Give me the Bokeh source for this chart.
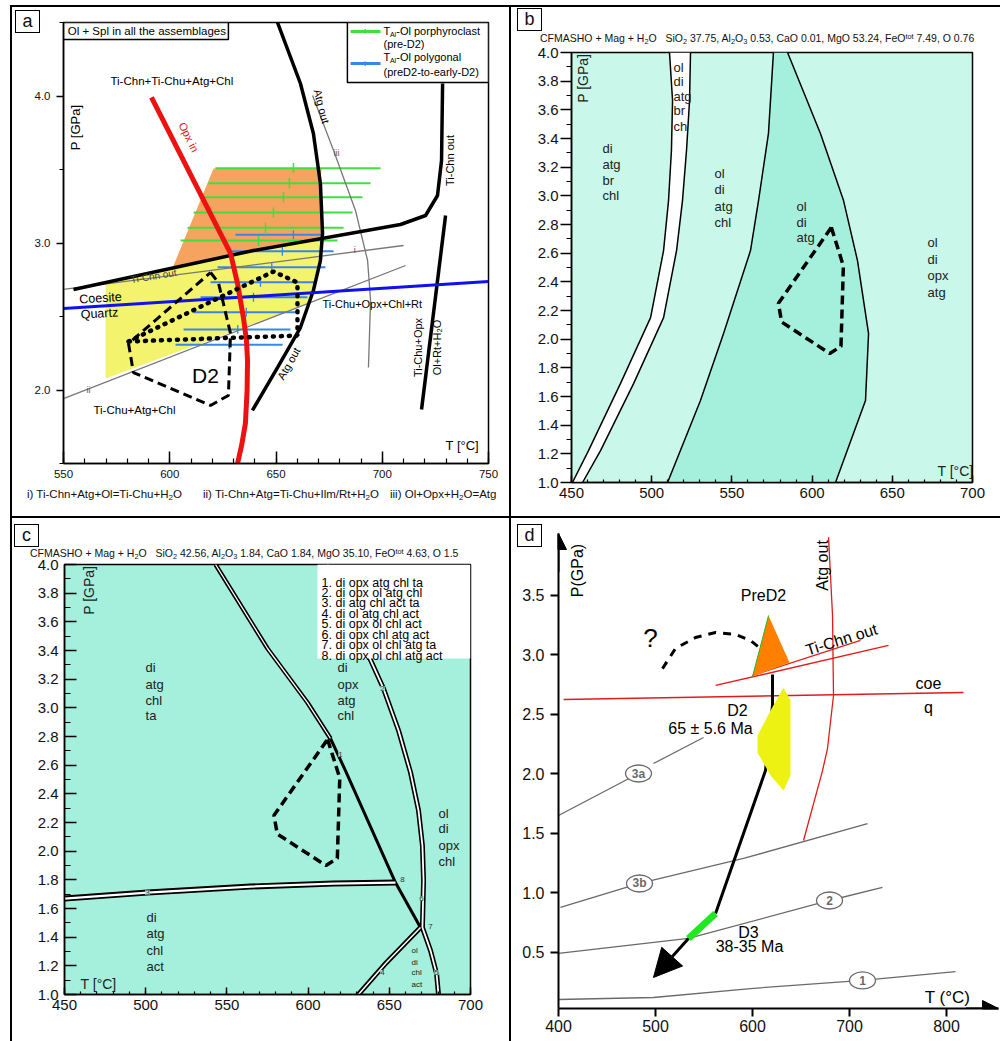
from bokeh.plotting import figure
from bokeh.models import (Range1d, Label, FixedTicker, PrintfTickFormatter, Div,
                          Arrow, NormalHead)
from bokeh.embed import file_html
from bokeh.resources import INLINE
from bokeh.core.properties import value

FONT = "Liberation Sans"

# ---------------- Panel a data ----------------
A_OPX_T = [591.4, 628.6, 631.9, 634.7, 636.1, 636.6, 636.4, 635.6, 633.8, 631.9]
A_OPX_P = [3.99, 2.93, 2.724, 2.49, 2.337, 2.20, 1.997, 1.772, 1.622, 1.50]
A_ATG_T = [650.7, 661.5, 667.6, 670.9, 671.9, 670.9, 667.6, 661.5, 650.7, 638.9]
A_ATG_P = [4.5, 4.085, 3.745, 3.405, 3.065, 2.88, 2.677, 2.425, 2.153, 1.861]
A_TICHN_T = [554.7, 639.4, 708.6, 720.4, 726.0, 727.9, 728.4]
A_TICHN_P = [2.684, 2.949, 3.126, 3.187, 3.323, 3.561, 4.085]
A_TICHU_T = [729.8, 718.5]
A_TICHU_P = [3.187, 1.867]
A_COE_T = [550, 750]
A_COE_P = [2.554, 2.738]
A_I_T = [550, 710]
A_I_P = [2.684, 2.983]
A_II_T = [550, 711]
A_II_P = [1.942, 2.847]
A_III_T = [667.2, 677.1, 687.4, 693.1, 694.5, 693.5]
A_III_P = [4.003, 3.629, 3.221, 2.881, 2.609, 2.153]
A_OR_T = [620.6, 671.4, 670.9, 671.9, 639.4, 601.3]
A_OR_P = [3.507, 3.507, 3.405, 3.04, 2.949, 2.83]
A_YE_T = [569.8, 569.8, 665.6, 667.6, 670.9, 671.9, 639.4]
A_YE_P = [2.731, 2.078, 2.592, 2.677, 2.88, 3.03, 2.949]
A_GR_P = [3.509, 3.407, 3.312, 3.207, 3.103, 3.017]
A_GR_T0 = [621.5, 618.2, 615.4, 611.2, 608.4, 605.1]
A_GR_T1 = [699.2, 694.5, 690.7, 686.0, 681.8, 678.9]
A_GR_TC = [658.2, 656.3, 653.5, 648.8, 645.1, 641.8]
A_BL_P = [3.056, 2.944, 2.835, 2.733, 2.631, 2.529, 2.412, 2.307]
A_BL_T0 = [630.9, 628.6, 622.5, 619.2, 614.5, 611.2, 606.5, 602.7]
A_BL_T1 = [671.9, 677.1, 673.3, 668.6, 664.8, 660.1, 656.8, 653.1]
A_BL_TC = [658.2, 653.0, 648.0, 642.7, 639.4, 636.0, 632.0, 628.0]
A_DOT_T = [580.6, 648.8, 660.1, 660.1, 628.6, 580.6]
A_DOT_P = [2.33, 2.806, 2.731, 2.37, 2.355, 2.33]
A_D2_T = [619.2, 622.9, 628.6, 627.6, 619.2, 582.9, 580.6, 619.2]
A_D2_P = [2.799, 2.731, 2.384, 1.963, 1.895, 2.119, 2.316, 2.799]
A_CAPTION = ["i) Ti-Chn+Atg+Ol=Ti-Chu+H<sub>2</sub>O",
             "ii) Ti-Chn+Atg=Ti-Chu+Ilm/Rt+H<sub>2</sub>O",
             "iii) Ol+Opx+H<sub>2</sub>O=Atg"]

# ---------------- Panel b data ----------------
B1_T = [511.1, 513.0, 512.3, 510.5, 507.4, 499.3, 480.5, 460.6, 450.6]
B1_P = [4.0, 3.665, 3.316, 2.967, 2.618, 2.150, 1.690, 1.222, 1.0]
B2_T = [524.2, 523.6, 521.7, 519.2, 515.5, 507.4, 488.7, 468.1, 456.9]
B2_P = [4.0, 3.665, 3.316, 2.967, 2.618, 2.150, 1.690, 1.222, 1.0]
B3_T = [575.9, 572.8, 566.6, 561.6, 544.8, 530.4, 509.9]
B3_P = [4.0, 3.435, 2.967, 2.618, 2.039, 1.572, 1.0]
B4_T = [584.7, 605.2, 619.6, 628.3, 635.2, 633.3, 614.6]
B4_P = [4.0, 3.435, 2.967, 2.548, 2.039, 1.572, 1.0]
BC_D2_T = [612.0, 619.5, 618.0, 611.0, 581.0, 579.0, 612.0]
BC_D2_P = [2.78, 2.51, 1.95, 1.90, 2.12, 2.25, 2.78]
B_TITLE = ("CFMASHO + Mag + H<sub>2</sub>O&nbsp;&nbsp; SiO<sub>2</sub> 37.75, Al<sub>2</sub>O<sub>3</sub> 0.53, "
           "CaO 0.01, MgO 53.24, FeO<sup>tot</sup> 7.49, O 0.76")

# ---------------- Panel c data ----------------
C1_T = [543.0, 575.0, 599.6, 613.8]
C1_P = [4.0, 3.414, 3.037, 2.786]
C1B_T = [613.8, 623.0, 653.8, 669.2]
C1B_P = [2.786, 2.562, 1.781, 1.467]
C2_T = [612.0, 637.2, 646.4, 655.7, 663.1, 668.0, 670.4, 671.1, 670.4, 675.4, 679.1, 680.3]
C2_P = [4.0, 3.365, 3.135, 2.842, 2.548, 2.283, 2.039, 1.795, 1.467, 1.306, 1.146, 1.0]
C3_T = [450.0, 501.1, 564.5, 615.6, 653.8]
C3_P = [1.669, 1.711, 1.753, 1.774, 1.781]
C4_T = [631.0, 648.0, 669.2]
C4_P = [1.0, 1.22, 1.467]
C_LEGEND = ["1. di opx atg chl ta", "2. di opx ol atg chl", "3. di atg chl act ta",
            "4. di ol atg chl act", "5. di opx ol chl act", "6. di opx chl atg act",
            "7. di opx ol chl atg ta", "8. di opx ol chl atg act"]
C_NUM = ["1", "2", "3", "4", "5", "6", "7", "8"]
C_NUM_T = [620.0, 645.8, 501.1, 645.8, 679.1, 669.8, 675.4, 658.1]
C_NUM_P = [2.674, 3.135, 1.711, 1.153, 1.153, 1.669, 1.474, 1.802]
C_TITLE = ("CFMASHO + Mag + H<sub>2</sub>O&nbsp;&nbsp; SiO<sub>2</sub> 42.56, Al<sub>2</sub>O<sub>3</sub> 1.84, "
           "CaO 1.84, MgO 35.10, FeO<sup>tot</sup> 4.63, O 1.5")

# ---------------- Panel d data ----------------
D_ATG_T = [678.4, 682.5, 683.5, 677.3, 672.2, 652.6]
D_ATG_P = [3.99, 3.332, 2.660, 2.214, 2.029, 1.441]
D_CHN1_T = [561.9, 740.2]
D_CHN1_P = [2.744, 3.080]
D_CHN2_T = [600.0, 711.3]
D_CHN2_P = [2.828, 3.122]
D_COE_T = [405.2, 817.5]
D_COE_P = [2.626, 2.685]
D_PRE_T = [616.5, 600.0, 638.1]
D_PRE_P = [3.332, 2.819, 2.937]
D_D2_T = [632.0, 639.2, 639.2, 632.0, 618.6, 605.2, 605.2, 618.6]
D_D2_P = [2.727, 2.618, 1.987, 1.861, 1.987, 2.181, 2.324, 2.534]
D_PATH_T = [620.6, 620.6, 613.4, 561.9]
D_PATH_P = [2.836, 2.576, 2.029, 0.828]
D_D3_T = [561.9, 534.0]
D_D3_P = [0.828, 0.618]
D_ARROW_T = [534.0, 497.9]
D_ARROW_P = [0.618, 0.290]
D_Q_T = [507.2, 520.6, 541.2, 561.9, 582.5, 597.9, 608.2]
D_Q_P = [2.886, 3.055, 3.147, 3.189, 3.172, 3.122, 3.055]
D_3A_T = [400.0, 482.5]
D_3A_P = [1.651, 2.004]
D_3B_T = [402.0, 483.5, 590.7, 718.6]
D_3B_P = [0.879, 1.080, 1.290, 1.584]
D_2_T = [400.0, 534.0, 679.4, 734.0]
D_2_P = [0.492, 0.618, 0.937, 1.047]
D_1_T = [400.0, 497.9, 597.9, 713.4, 809.3]
D_1_P = [0.105, 0.122, 0.197, 0.265, 0.340]
D_CIRC_LBL = ["3a", "3b", "2", "1"]
D_CIRC_T = [482.5, 483.5, 679.4, 713.4]
D_CIRC_P = [2.004, 1.080, 0.937, 0.265]
D_LEADER_T = [549.5, 497.9]
D_LEADER_P = [2.307, 2.088]

LIGHT = "#c9f7ea"
DARK = "#a4f0dc"


def lab(p, x, y, s, size=11, angle=0.0, align="left", color="black", font=FONT,
        baseline="middle", style="normal", **kw):
    p.add_layout(Label(x=x, y=y, text=s, text_font_size=f"{size}px", angle=angle,
                       text_align=align, text_baseline=baseline, text_color=color,
                       text_font=font, text_font_style=style, **kw))


def stack(p, x, ys, words, size=13, color="#222222"):
    for y, w in zip(ys, words):
        lab(p, x, y, w, size=size, color=color)


def mkfig(w, h, left, top, xr, yr, ml, mr, mt, mb, outline=True):
    p = figure(width=w, height=h, x_range=Range1d(*xr), y_range=Range1d(*yr),
               output_backend="svg", toolbar_location=None,
               min_border_left=ml, min_border_right=mr, min_border_top=mt, min_border_bottom=mb,
               styles={"position": "absolute", "left": f"{left}px", "top": f"{top}px"})
    p.grid.visible = False
    p.outline_line_color = "black" if outline else None
    p.outline_line_width = 1.5
    p.border_fill_color = "white"
    for ax in (p.xaxis, p.yaxis):
        ax.axis_line_width = 1.5
        ax.major_tick_line_width = 1.5
        ax.minor_tick_line_width = 1.2
        ax.major_label_text_font = FONT
        ax.major_label_text_color = "#111111"
    return p


def absdiv(left, top, w, h, html, css=""):
    inner = (f'<div style="font-family:\'Liberation Sans\';white-space:nowrap;color:#111;{css}">'
             f'{html}</div>')
    return Div(text=inner, width=w, height=h, margin=0,
               styles={"position": "absolute", "left": f"{left}px", "top": f"{top}px"})


def rule(left, top, w, h):
    return Div(text="", width=w, height=h, margin=0,
               styles={"position": "absolute", "left": f"{left}px", "top": f"{top}px",
                       "background-color": "black"})


def boxdiv(left, top, s):
    return absdiv(left, top, 26, 24, s,
                  "box-sizing:border-box;border:1.5px solid black;width:25px;height:23px;"
                  "font-size:18px;line-height:20px;text-align:center;background:white;")


SUBCSS = "<style>sub{font-size:70%;vertical-align:-2px;line-height:0}sup{font-size:70%;vertical-align:3px;line-height:0}</style>"

# =============== Panel a ===============
pa = mkfig(497, 509, 12, 7, (550, 750), (1.5, 4.5), 51, 21, 15, 53)
pa.xaxis.ticker = FixedTicker(ticks=[550, 600, 650, 700, 750], minor_ticks=list(range(550, 751, 10)))
pa.xaxis.major_tick_in = 12
pa.xaxis.major_tick_out = 0
pa.xaxis.minor_tick_in = 5
pa.xaxis.minor_tick_out = 0
pa.xaxis.major_label_standoff = 6
pa.xaxis.major_label_text_font_size = "11.5px"
pa.yaxis.ticker = FixedTicker(ticks=[2.0, 3.0, 4.0], minor_ticks=[1.5, 2.5, 3.5, 4.5])
pa.yaxis.formatter = PrintfTickFormatter(format="%.1f")
pa.yaxis.major_tick_out = 7
pa.yaxis.major_tick_in = 0
pa.yaxis.minor_tick_out = 4
pa.yaxis.minor_tick_in = 0
pa.yaxis.major_label_standoff = 6
pa.yaxis.major_label_text_font_size = "11.5px"

pa.patch(A_YE_T, A_YE_P, fill_color="#f3f36e", line_color=None)
pa.patch(A_OR_T, A_OR_P, fill_color="#f6a35f", line_color=None)
pa.segment(A_GR_T0, A_GR_P, A_GR_T1, A_GR_P, line_color="#3ee03e", line_width=2)
pa.segment(A_GR_TC, [v - 0.035 for v in A_GR_P], A_GR_TC, [v + 0.035 for v in A_GR_P],
           line_color="#3ee03e", line_width=1.5)
pa.segment(A_BL_T0, A_BL_P, A_BL_T1, A_BL_P, line_color="#3a86e6", line_width=2)
pa.segment(A_BL_TC, [v - 0.03 for v in A_BL_P], A_BL_TC, [v + 0.03 for v in A_BL_P],
           line_color="#3a86e6", line_width=1.3)
for xs, ys in ((A_I_T, A_I_P), (A_II_T, A_II_P), (A_III_T, A_III_P)):
    pa.line(xs, ys, line_color="#777777", line_width=1.3)
pa.line(A_ATG_T, A_ATG_P, line_color="black", line_width=3.5)
pa.line(A_TICHN_T, A_TICHN_P, line_color="black", line_width=3.5)
pa.line(A_TICHU_T, A_TICHU_P, line_color="black", line_width=3.5)
pa.line(A_COE_T, A_COE_P, line_color="#1010f0", line_width=3)
pa.line(A_OPX_T, A_OPX_P, line_color="#ee1111", line_width=5, line_join="round")
pa.line(A_DOT_T, A_DOT_P, line_color="black", line_width=4.5, line_dash="1 7", line_cap="round")
pa.line(A_D2_T, A_D2_P, line_color="black", line_width=3, line_dash="9 5")

pa.quad(left=[550], right=[627.6], top=[4.5], bottom=[4.384], fill_color="white",
        line_color="black", line_width=1.5)
pa.quad(left=[683.6], right=[750], top=[4.5], bottom=[4.092], fill_color="white",
        line_color="black", line_width=1.5)
pa.line([685.1, 699.2], [4.439, 4.439], line_color="#3ee03e", line_width=3)
pa.line([692.0, 692.0], [4.425, 4.455], line_color="#3ee03e", line_width=1.5)
pa.line([685.1, 699.2], [4.221, 4.221], line_color="#3a86e6", line_width=3)
pa.line([692.0, 692.0], [4.205, 4.235], line_color="#3a86e6", line_width=1.5)

lab(pa, 552.0, 4.44, "Ol + Spl in all the assemblages", size=11.5)
lab(pa, 700.6, 4.439, "T", size=11)
lab(pa, 703.6, 4.418, "Al", size=7)
lab(pa, 706.6, 4.439, "-Ol porphyroclast", size=11)
lab(pa, 700.6, 4.357, "(pre-D2)", size=11)
lab(pa, 700.6, 4.262, "T", size=11)
lab(pa, 703.6, 4.241, "Al", size=7)
lab(pa, 706.6, 4.262, "-Ol polygonal", size=11)
lab(pa, 700.6, 4.16, "(preD2-to-early-D2)", size=11)
lab(pa, 572.1, 4.105, "Ti-Chn+Ti-Chu+Atg+Chl", size=11.5)
lab(pa, 609.0, 3.72, "Opx in", size=11, angle=-1.11, align="center", color="#dd1111")
lab(pa, 671.5, 3.93, "Atg out", size=11, angle=-1.32, align="center")
lab(pa, 678.5, 3.61, "iii", size=9, align="center", color="#555555")
lab(pa, 732.0, 3.561, "Ti-Chn out", size=11, angle=1.5708, align="center")
lab(pa, 687.0, 2.955, "i", size=9, align="center", color="#555555")
lab(pa, 592.4, 2.775, "Ti-Chn out", size=10, angle=0.16, align="center", color="#444444")
lab(pa, 567.4, 2.625, "Coesite", size=12.5, angle=0.06, align="center")
lab(pa, 566.9, 2.52, "Quartz", size=12.5, angle=0.06, align="center")
lab(pa, 671.9, 2.582, "Ti-Chu+Opx+Chl+Rt", size=11)
lab(pa, 716.8, 2.289, "Ti-Chu+Opx", size=11, angle=1.5708, align="center")
lab(pa, 725.8, 2.289, "Ol+Rt+H\u2082O", size=11, angle=1.5708, align="center")
lab(pa, 616.8, 2.099, "D2", size=21, align="center")
lab(pa, 656.0, 2.18, "Atg out", size=11, angle=1.05, align="center")
lab(pa, 561.8, 1.997, "ii", size=9, align="center", color="#555555")
lab(pa, 564.1, 1.861, "Ti-Chu+Atg+Chl", size=11.5)
lab(pa, 729.8, 1.622, "T [\u00b0C]", size=13)
lab(pa, 555.6, 3.786, "P [GPa]", size=13, angle=1.5708, align="center")

# =============== Panel b ===============
pb = mkfig(489, 509, 511, 7, (450, 700), (1.0, 4.0), 60, 28, 45, 34)
pb.background_fill_color = LIGHT
pb.xaxis.ticker = FixedTicker(ticks=list(range(450, 701, 50)), minor_ticks=list(range(450, 701, 10)))
pb.xaxis.major_tick_in = 7
pb.xaxis.major_tick_out = 0
pb.xaxis.minor_tick_in = 3
pb.xaxis.minor_tick_out = 0
pb.xaxis.major_label_standoff = 5
pb.xaxis.major_label_text_font_size = "15px"
pb.yaxis.ticker = FixedTicker(ticks=[1.0 + 0.2 * i for i in range(16)],
                              minor_ticks=[1.0 + 0.1 * i for i in range(31)])
pb.yaxis.formatter = PrintfTickFormatter(format="%.1f")
pb.yaxis.major_tick_out = 11
pb.yaxis.major_tick_in = 0
pb.yaxis.minor_tick_out = 5
pb.yaxis.minor_tick_in = 0
pb.yaxis.major_label_standoff = 2
pb.yaxis.major_label_text_font_size = "15px"

pb.patch(B3_T + B4_T[::-1], B3_P + B4_P[::-1], fill_color=DARK, line_color=None)
pb.patch(B1_T + B2_T[::-1], B1_P + B2_P[::-1], fill_color="white", line_color=None)
for xs, ys in ((B1_T, B1_P), (B2_T, B2_P), (B3_T, B3_P), (B4_T, B4_P)):
    pb.line(xs, ys, line_color="black", line_width=1.5)
pb.line(BC_D2_T, BC_D2_P, line_color="black", line_width=3.5, line_dash="9 5")

lab(pb, 456.9, 3.82, "P [GPa]", size=14, angle=1.5708, align="center", color="#222222")
stack(pb, 513.6, [3.895, 3.798, 3.693, 3.595, 3.484], ["ol", "di", "atg", "br", "ch"])
stack(pb, 469.3, [3.330, 3.218, 3.107, 3.002], ["di", "atg", "br", "chl"])
stack(pb, 539.2, [3.156, 3.044, 2.925, 2.814], ["ol", "di", "atg", "chl"])
stack(pb, 590.3, [2.925, 2.814, 2.709], ["ol", "di", "atg"])
stack(pb, 672.0, [2.674, 2.556, 2.444, 2.325], ["ol", "di", "opx", "atg"])
lab(pb, 678.2, 1.083, "T [\u00b0C]", size=14, color="#222222")

# =============== Panel c ===============
pc = mkfig(497, 523, 12, 518, (450, 700), (1.0, 4.0), 52, 39, 46, 47)
pc.background_fill_color = DARK
pc.xaxis.ticker = FixedTicker(ticks=list(range(450, 701, 50)), minor_ticks=list(range(450, 701, 10)))
pc.xaxis.major_tick_in = 7
pc.xaxis.major_tick_out = 0
pc.xaxis.minor_tick_in = 3
pc.xaxis.minor_tick_out = 0
pc.xaxis.major_label_standoff = 5
pc.xaxis.major_label_text_font_size = "15px"
pc.yaxis.ticker = FixedTicker(ticks=[1.0 + 0.2 * i for i in range(16)],
                              minor_ticks=[1.0 + 0.1 * i for i in range(31)])
pc.yaxis.formatter = PrintfTickFormatter(format="%.1f")
pc.yaxis.major_tick_in = 12
pc.yaxis.major_tick_out = 0
pc.yaxis.minor_tick_in = 6
pc.yaxis.minor_tick_out = 0
pc.yaxis.major_label_standoff = 6
pc.yaxis.major_label_text_font_size = "15px"

pc.line(C1_T, C1_P, line_color="black", line_width=4.5)
pc.line(C1_T, C1_P, line_color="white", line_width=1.3)
pc.line(C1B_T, C1B_P, line_color="black", line_width=3)
pc.line(C2_T, C2_P, line_color="black", line_width=5)
pc.line(C2_T, C2_P, line_color="white", line_width=1.8)
pc.line(C3_T, C3_P, line_color="black", line_width=6)
pc.line(C3_T, C3_P, line_color="white", line_width=2.2)
pc.line(C4_T, C4_P, line_color="black", line_width=5)
pc.line(C4_T, C4_P, line_color="white", line_width=1.5)
pc.line(BC_D2_T, BC_D2_P, line_color="black", line_width=3.5, line_dash="9 5")
pc.quad(left=[605.8], right=[700], top=[4.0], bottom=[3.344], fill_color="white", line_color=None)
for i, s in enumerate(C_LEGEND):
    lab(pc, 608.3, 3.874 - 0.0728 * i, s, size=12.5)
for s, x, y in zip(C_NUM, C_NUM_T, C_NUM_P):
    lab(pc, x, y, s, size=8, align="center", color="#333333", background_fill_color=DARK)

lab(pc, 464.8, 3.82, "P [GPa]", size=14, angle=1.5708, align="center", color="#222222")
stack(pc, 499.9, [3.281, 3.163, 3.051, 2.946], ["di", "atg", "chl", "ta"])
stack(pc, 618.1, [3.281, 3.163, 3.051, 2.946], ["di", "opx", "atg", "chl"])
stack(pc, 680.3, [2.262, 2.158, 2.039, 1.927], ["ol", "di", "opx", "chl"])
stack(pc, 500.5, [1.537, 1.425, 1.306, 1.195], ["di", "atg", "chl", "act"])
stack(pc, 663.7, [1.306, 1.223, 1.153, 1.069], ["ol", "di", "chl", "act"], size=8)
lab(pc, 459.9, 1.076, "T [\u00b0C]", size=14, color="#222222")

# =============== Panel d ===============
pd_ = mkfig(489, 523, 511, 518, (400, 853.6), (0.0294, 4.021), 47, 2, 15, 33, outline=False)
pd_.xaxis.ticker = FixedTicker(ticks=[400, 500, 600, 700, 800], minor_ticks=[])
pd_.yaxis.ticker = FixedTicker(ticks=[0.5, 1.0, 1.5, 2.0, 2.5, 3.0, 3.5], minor_ticks=[])
pd_.yaxis.formatter = PrintfTickFormatter(format="%.1f")
for ax in (pd_.xaxis, pd_.yaxis):
    ax.axis_line_width = 2
    ax.major_tick_line_width = 2
    ax.major_tick_out = 8
    ax.major_tick_in = 0
    ax.major_label_text_font_size = "16px"
pd_.xaxis.major_label_standoff = 3
pd_.yaxis.major_label_standoff = 6
pd_.add_layout(Arrow(end=NormalHead(size=16, fill_color="black", line_color="black"),
                     x_start=400, y_start=3.7, x_end=400, y_end=4.021, line_width=2))
pd_.add_layout(Arrow(end=NormalHead(size=16, fill_color="black", line_color="black"),
                     x_start=820, y_start=0.0294, x_end=853.6, y_end=0.0294, line_width=2))

for xs, ys in ((D_3A_T, D_3A_P), (D_3B_T, D_3B_P), (D_2_T, D_2_P), (D_1_T, D_1_P),
               (D_LEADER_T, D_LEADER_P)):
    pd_.line(xs, ys, line_color="#6a6a6a", line_width=1.3)
for xs, ys in ((D_ATG_T, D_ATG_P), (D_CHN1_T, D_CHN1_P), (D_CHN2_T, D_CHN2_P), (D_COE_T, D_COE_P)):
    pd_.line(xs, ys, line_color="#e31a1a", line_width=1.3)
pd_.patch(D_PRE_T, D_PRE_P, fill_color="#ff8000", line_color=None)
pd_.line(D_PRE_T[:2], D_PRE_P[:2], line_color="#22bb22", line_width=1)
pd_.line(D_PATH_T, D_PATH_P, line_color="black", line_width=3)
pd_.patch(D_D2_T, D_D2_P, fill_color="#eef213", line_color=None)
pd_.line(D_D3_T, D_D3_P, line_color="#22e822", line_width=7)
pd_.add_layout(Arrow(end=NormalHead(size=28, fill_color="black", line_color="black"),
                     x_start=D_ARROW_T[0], y_start=D_ARROW_P[0], x_end=D_ARROW_T[1], y_end=D_ARROW_P[1],
                     line_width=3))
pd_.line(D_Q_T, D_Q_P, line_color="black", line_width=3, line_dash="8 7")
pd_.ellipse(D_CIRC_T, D_CIRC_P, width=26, height=17, width_units="screen", height_units="screen",
            fill_color="white", line_color="#6a6a6a", line_width=1.3)
pd_.text(D_CIRC_T, D_CIRC_P, text=D_CIRC_LBL, text_font=value(FONT), text_font_size="12px",
         text_font_style="bold", text_color="#6a6a6a", text_align="center", text_baseline="middle")

lab(pd_, 419.6, 3.71, "P(GPa)", size=16, angle=1.5708, align="center")
lab(pd_, 801.0, 0.125, "T (\u00b0C)", size=17, align="center")
lab(pd_, 611.3, 3.5, "PreD2", size=16, align="center")
lab(pd_, 672.2, 3.752, "Atg out", size=16, angle=1.5708, align="center")
lab(pd_, 691.8, 3.13, "Ti-Chn out", size=16, angle=0.3, align="center")
lab(pd_, 781.4, 2.761, "coe", size=16, align="center")
lab(pd_, 781.4, 2.559, "q", size=16, align="center")
lab(pd_, 494.8, 3.147, "?", size=26, align="center")
lab(pd_, 584.5, 2.534, "D2", size=16, align="center")
lab(pd_, 556.7, 2.382, "65 \u00b1 5.6 Ma", size=16, align="center")
lab(pd_, 595.9, 0.668, "D3", size=16, align="center")
lab(pd_, 596.9, 0.551, "38-35 Ma", size=16, align="center")

# =============== texts outside the plot frames, and panel borders ===============
extras = [
    rule(10, 5, 990, 2), rule(10, 5, 2, 1036), rule(509, 5, 2, 1036), rule(10, 516, 990, 2),
    boxdiv(15, 10, "a"), boxdiv(517, 8, "b"), boxdiv(14, 524, "c"), boxdiv(517, 524, "d"),
    absdiv(27, 486, 170, 15, SUBCSS + A_CAPTION[0], "font-size:11.5px;line-height:15px;"),
    absdiv(203, 486, 185, 15, SUBCSS + A_CAPTION[1], "font-size:11.5px;line-height:15px;"),
    absdiv(390, 486, 115, 15, SUBCSS + A_CAPTION[2], "font-size:11.5px;line-height:15px;"),
    absdiv(540, 30, 450, 15, SUBCSS + B_TITLE, "font-size:10.5px;line-height:15px;text-align:center;"),
    absdiv(30, 545, 460, 15, SUBCSS + C_TITLE, "font-size:10.5px;line-height:15px;text-align:center;"),
]

open("out.html", "w").write(file_html([pa, pb, pc, pd_] + extras, INLINE))
